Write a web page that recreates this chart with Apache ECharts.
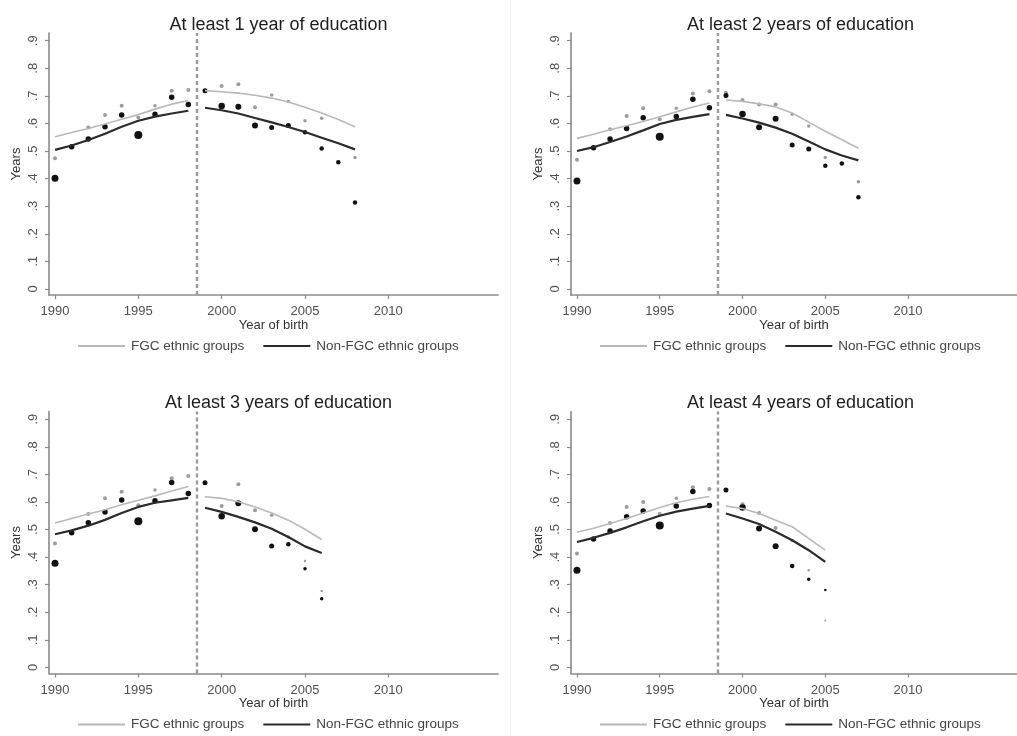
<!DOCTYPE html>
<html>
<head>
<meta charset="utf-8">
<script src="https://cdn.jsdelivr.net/npm/echarts@6/dist/echarts.min.js"></script>
<style>
  html, body { margin: 0; padding: 0; background: #ffffff; }
  #chart { width: 1017px; height: 736px; }
</style>
</head>
<body>
<div id="chart"></div>
<script>
// ---------------- data ----------------
const panelTitles = [
  'At least 1 year of education',
  'At least 2 years of education',
  'At least 3 years of education',
  'At least 4 years of education'
];
const seriesNames = ['FGC ethnic groups', 'Non-FGC ethnic groups'];
const xTicks = [1990, 1995, 2000, 2005, 2010];
const yTicks = [0, 0.1, 0.2, 0.3, 0.4, 0.5, 0.6, 0.7, 0.8, 0.9];
const cutoffYear = 1998.5;

// birth cohorts before the cutoff (same in every panel)
const yearsBefore = [1990, 1991, 1992, 1993, 1994, 1995, 1996, 1997, 1998];
// birth cohorts after the cutoff, per panel
const yearsAfter1 = [1999, 2000, 2001, 2002, 2003, 2004, 2005, 2006, 2007, 2008];
const yearsAfter2 = [1999, 2000, 2001, 2002, 2003, 2004, 2005, 2006, 2007];
const yearsAfter3 = [1999, 2000, 2001, 2002, 2003, 2004, 2005, 2006];
const yearsAfter4 = [1999, 2000, 2001, 2002, 2003, 2004, 2005];

// Panel 1: at least 1 year of education
const fgcMeans1    = [0.474, 0.518, 0.585, 0.631, 0.664, 0.622, 0.664, 0.719, 0.721, 0.719, 0.736, 0.742, 0.659, 0.703, 0.680, 0.610, 0.619, 0.460, 0.477];
const nonFgcMeans1 = [0.401, 0.516, 0.544, 0.588, 0.631, 0.558, 0.633, 0.695, 0.669, 0.719, 0.663, 0.661, 0.593, 0.585, 0.593, 0.568, 0.509, 0.459, 0.313];
const fgcFitBefore1    = [0.552, 0.567, 0.582, 0.598, 0.615, 0.632, 0.652, 0.670, 0.683];
const nonFgcFitBefore1 = [0.504, 0.520, 0.540, 0.563, 0.588, 0.610, 0.625, 0.636, 0.646];
const fgcFitAfter1     = [0.719, 0.715, 0.710, 0.702, 0.692, 0.678, 0.659, 0.638, 0.614, 0.588];
const nonFgcFitAfter1  = [0.657, 0.648, 0.636, 0.620, 0.604, 0.587, 0.569, 0.548, 0.528, 0.506];

// Panel 2: at least 2 years of education
const fgcMeans2    = [0.468, 0.512, 0.579, 0.627, 0.655, 0.615, 0.655, 0.709, 0.717, 0.711, 0.685, 0.669, 0.669, 0.633, 0.591, 0.477, 0.455, 0.389];
const nonFgcMeans2 = [0.391, 0.512, 0.544, 0.582, 0.621, 0.552, 0.625, 0.688, 0.657, 0.701, 0.634, 0.586, 0.617, 0.522, 0.507, 0.447, 0.455, 0.332];
const fgcFitBefore2    = [0.546, 0.561, 0.577, 0.592, 0.607, 0.624, 0.642, 0.660, 0.674];
const nonFgcFitBefore2 = [0.500, 0.514, 0.533, 0.553, 0.575, 0.598, 0.613, 0.624, 0.634];
const fgcFitAfter2     = [0.685, 0.680, 0.671, 0.660, 0.638, 0.605, 0.572, 0.541, 0.510];
const nonFgcFitAfter2  = [0.631, 0.618, 0.603, 0.585, 0.563, 0.535, 0.506, 0.484, 0.466];

// Panel 3: at least 3 years of education
const fgcMeans3    = [0.449, 0.488, 0.556, 0.613, 0.637, 0.588, 0.643, 0.686, 0.694, 0.670, 0.585, 0.664, 0.570, 0.552, 0.473, 0.386, 0.277];
const nonFgcMeans3 = [0.378, 0.488, 0.525, 0.564, 0.607, 0.530, 0.604, 0.671, 0.631, 0.670, 0.548, 0.595, 0.501, 0.440, 0.447, 0.358, 0.249];
const fgcFitBefore3    = [0.524, 0.540, 0.556, 0.572, 0.590, 0.606, 0.622, 0.640, 0.656];
const nonFgcFitBefore3 = [0.483, 0.497, 0.514, 0.535, 0.560, 0.582, 0.597, 0.606, 0.615];
const fgcFitAfter3     = [0.619, 0.613, 0.601, 0.582, 0.560, 0.534, 0.501, 0.464];
const nonFgcFitAfter3  = [0.579, 0.564, 0.546, 0.526, 0.503, 0.473, 0.439, 0.415];

// Panel 4: at least 4 years of education
const fgcMeans4    = [0.413, 0.466, 0.524, 0.582, 0.600, 0.556, 0.613, 0.653, 0.647, 0.643, 0.592, 0.560, 0.506, 0.460, 0.352, 0.170];
const nonFgcMeans4 = [0.352, 0.466, 0.495, 0.546, 0.567, 0.515, 0.585, 0.638, 0.587, 0.643, 0.580, 0.504, 0.439, 0.368, 0.320, 0.281];
const fgcFitBefore4    = [0.490, 0.505, 0.522, 0.540, 0.560, 0.580, 0.597, 0.610, 0.620];
const nonFgcFitBefore4 = [0.455, 0.470, 0.488, 0.508, 0.530, 0.550, 0.565, 0.576, 0.586];
const fgcFitAfter4     = [0.585, 0.576, 0.558, 0.534, 0.510, 0.468, 0.425];
const nonFgcFitAfter4  = [0.558, 0.540, 0.520, 0.492, 0.461, 0.425, 0.383];

// ---------------- styling ----------------
const FONT = '"Liberation Sans", Arial, Helvetica, sans-serif';
const GREY_DOT = '#9c9c9c';
const BLACK_DOT = '#111111';
const GREY_LINE = '#b9b9b9';
const BLACK_LINE = '#2b2b2b';
const AXIS_COLOR = '#8a8a8a';
const LABEL_COLOR = '#505050';

// marker diameters by cohort (cohort weight), thinning out for the youngest cohorts
const nonFgcDotSize = [7, 5.5, 5.5, 5.5, 5.5, 8, 5.5, 5.5, 5.5, 5, 6.5, 6, 6, 5, 5, 4.5];
const fgcDotSize    = [4, 3.5, 4, 4, 4, 4, 3.5, 4, 4, 4, 4, 4, 4, 3.5, 3.5, 3.5];
function dotSize(base, idx, n, tail) {
  if (idx === n - 1) return tail[0];
  if (idx === n - 2) return tail[1];
  if (idx === n - 3) return Math.min(base[idx], tail[2]);
  return base[idx];
}

const panels = [
  { after: yearsAfter1, fgc: fgcMeans1, non: nonFgcMeans1, fB: fgcFitBefore1, nB: nonFgcFitBefore1, fA: fgcFitAfter1, nA: nonFgcFitAfter1 },
  { after: yearsAfter2, fgc: fgcMeans2, non: nonFgcMeans2, fB: fgcFitBefore2, nB: nonFgcFitBefore2, fA: fgcFitAfter2, nA: nonFgcFitAfter2 },
  { after: yearsAfter3, fgc: fgcMeans3, non: nonFgcMeans3, fB: fgcFitBefore3, nB: nonFgcFitBefore3, fA: fgcFitAfter3, nA: nonFgcFitAfter3 },
  { after: yearsAfter4, fgc: fgcMeans4, non: nonFgcMeans4, fB: fgcFitBefore4, nB: nonFgcFitBefore4, fA: fgcFitAfter4, nA: nonFgcFitAfter4 }
];

// panel layout (2 x 2)
const colLeft = [49, 571];
const rowTop = [33, 411.5];
const plotW = 449, plotH = 262;

const grids = [], xAxes = [], yAxes = [], titles = [], legends = [], series = [];

function fmtY(v) {
  if (v === 0) return '0';
  return String(Math.round(v * 10) / 10).replace(/^0/, '');
}

panels.forEach((p, i) => {
  const col = i % 2, row = Math.floor(i / 2);
  const left = colLeft[col], top = rowTop[row];
  const centerX = left + plotW / 2;
  grids.push({ left: left, top: top, width: plotW, height: plotH, containLabel: false });

  xAxes.push({
    type: 'value', gridIndex: i, min: 1989.64, max: 2016.58,
    name: 'Year of birth', nameLocation: 'middle', nameGap: 23,
    nameTextStyle: { fontFamily: FONT, fontSize: 13, color: '#333' },
    axisLine: { onZero: false, lineStyle: { color: AXIS_COLOR, width: 1.6 } },
    axisTick: { show: true, length: 4, customValues: xTicks, lineStyle: { color: AXIS_COLOR, width: 1.2 } },
    axisLabel: { customValues: xTicks, margin: 10, fontFamily: FONT, fontSize: 13, color: LABEL_COLOR, formatter: v => String(v) },
    splitLine: { show: false }
  });
  yAxes.push({
    type: 'value', gridIndex: i, min: -0.022, max: 0.928,
    name: 'Years', nameLocation: 'middle', nameGap: 26, nameRotate: 90,
    nameTextStyle: { fontFamily: FONT, fontSize: 13, color: '#333' },
    axisLine: { show: true, onZero: false, lineStyle: { color: AXIS_COLOR, width: 1.6 } },
    axisTick: { show: true, length: 4, customValues: yTicks, lineStyle: { color: AXIS_COLOR, width: 1.2 } },
    axisLabel: { customValues: yTicks, rotate: 90, margin: 9, fontFamily: FONT, fontSize: 13, color: LABEL_COLOR, formatter: fmtY },
    splitLine: { show: false }
  });

  titles.push({
    text: panelTitles[i], left: centerX, top: top - 22, textAlign: 'center',
    textStyle: { fontFamily: FONT, fontSize: 18, fontWeight: 'normal', color: '#1e1e1e' }
  });

  legends.push({
    data: seriesNames, left: left + 29, top: top + 306,
    icon: 'rect', itemWidth: 47, itemHeight: 2, itemGap: 19, padding: 0,
    selectedMode: false,
    textStyle: { fontFamily: FONT, fontSize: 13.5, color: '#444', padding: [0, 0, 0, 1] }
  });

  const years = yearsBefore.concat(p.after);
  const n = years.length;

  // cohort means, FGC groups (grey)
  series.push({
    type: 'scatter', name: 'FGC cohort means', xAxisIndex: i, yAxisIndex: i, z: 2,
    data: years.map((yr, k) => ({ value: [yr, p.fgc[k]], symbolSize: dotSize(fgcDotSize, Math.min(k, fgcDotSize.length - 1), n, [2, 2.5, 3.5]) })),
    itemStyle: { color: GREY_DOT, opacity: 1 },
    silent: true,
    markLine: {
      silent: true, symbol: ['none', 'none'], label: { show: false },
      lineStyle: { color: '#9a9a9a', width: 2.4, type: [4, 3] },
      data: [{ xAxis: cutoffYear }]
    }
  });
  // cohort means, non-FGC groups (black)
  series.push({
    type: 'scatter', name: 'Non-FGC cohort means', xAxisIndex: i, yAxisIndex: i, z: 3,
    data: years.map((yr, k) => ({ value: [yr, p.non[k]], symbolSize: dotSize(nonFgcDotSize, Math.min(k, nonFgcDotSize.length - 1), n, [2.5, 3.5, 4.5]) })),
    itemStyle: { color: BLACK_DOT, opacity: 1 },
    silent: true
  });

  // fitted lines, broken at the cutoff
  const fitData = (before, after) =>
    yearsBefore.map((yr, k) => [yr, before[k]])
      .concat([[cutoffYear, '-']])
      .concat(p.after.map((yr, k) => [yr, after[k]]));

  series.push({
    type: 'line', name: seriesNames[0], xAxisIndex: i, yAxisIndex: i, z: 4,
    data: fitData(p.fB, p.fA), showSymbol: false, connectNulls: false,
    lineStyle: { color: GREY_LINE, width: 1.6 }, itemStyle: { color: GREY_LINE },
    silent: true
  });
  series.push({
    type: 'line', name: seriesNames[1], xAxisIndex: i, yAxisIndex: i, z: 5,
    data: fitData(p.nB, p.nA), showSymbol: false, connectNulls: false,
    lineStyle: { color: BLACK_LINE, width: 2.2 }, itemStyle: { color: BLACK_LINE },
    silent: true
  });
});

const chart = echarts.init(document.getElementById('chart'), null, { renderer: 'canvas' });
chart.setOption({
  backgroundColor: '#ffffff',
  animation: false,
  title: titles,
  legend: legends,
  grid: grids,
  xAxis: xAxes,
  yAxis: yAxes,
  series: series,
  graphic: [
    { type: 'line', shape: { x1: 510.5, y1: 0, x2: 510.5, y2: 736 }, style: { stroke: '#f1f1f1', lineWidth: 1 }, silent: true }
  ]
});
</script>
</body>
</html>
